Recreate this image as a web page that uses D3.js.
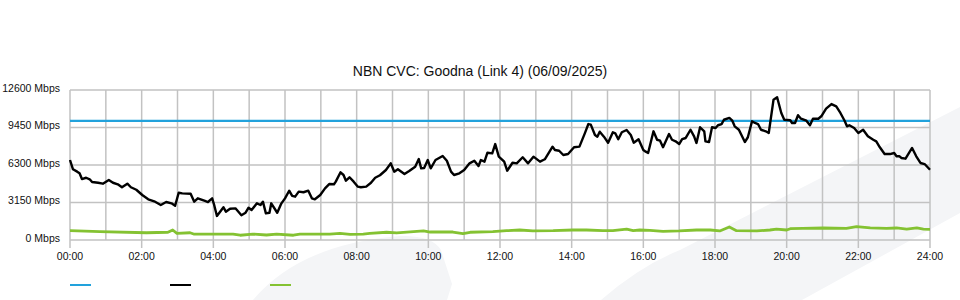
<!DOCTYPE html>
<html>
<head>
<meta charset="utf-8">
<script src="https://cdn.jsdelivr.net/npm/d3@7"></script>
<style>
  html, body { margin: 0; padding: 0; background: #fff; }
  svg { display: block; font-family: "Liberation Sans", Arial, Helvetica, sans-serif; }
</style>
</head>
<body>
<svg id="chart" width="960" height="300"></svg>
<script>
// ---- data (minutes since midnight, Mbps) ----
const title = "NBN CVC: Goodna (Link 4) (06/09/2025)";
const yTicks = [0, 3150, 6300, 9450, 12600];
const xTickLabels = ["00:00","02:00","04:00","06:00","08:00","10:00","12:00","14:00","16:00","18:00","20:00","22:00","24:00"];
const capacityMinutes = [0, 1440];
const capacityMbps = [10000, 10000];

const trafficMinutes = [0,5,12,16,20,27,33,37,47,55,65,72,80,87,96,102,111,121,131,141,152,161,170,176,182,188,202,208,214,226,231,238,241,
  246,252,257,261,268,277,287,294,299,304,313,319,323,328,334,337,347,354,360,367,372,377,383,391,399,405,410,419,427,434,442,445,453,458,462,468,475,
  482,487,496,504,511,519,529,537,543,549,560,568,578,584,588,593,599,604,612,624,631,638,643,652,660,669,677,684,688,694,699,707,712,718,
  723,727,732,741,748,758,767,776,787,795,808,812,819,826,834,844,853,862,868,872,879,883,887,894,901,909,913,918,924,932,939,944,952,960,964,
  968,977,983,988,993,1003,1008,1014,1020,1025,1031,1039,1045,1049,1055,1062,1064,1070,1075,1081,1085,1091,1095,1104,1109,1113,1120,1130,1135,1142,1147,1152,1157,1165,1170,1178,1184,1191,1196,1206,
  1209,1214,1219,1224,1233,1239,1244,1253,1258,1266,1275,1283,1290,1297,1301,1305,1313,1320,1328,1336,1345,1350,1356,1364,1373,1380,1384,1389,1392,1399,1410,1417,1424,1431,1440];
const trafficMbps = [6720,5940,5740,5600,5120,5230,5100,4870,4810,4730,5040,4810,4680,4430,4730,4430,4220,3780,3420,3250,2940,3190,3080,2880,3970,3920,3890,3220,3500,3280,3190,3500,3020,
  2020,2410,2750,2380,2630,2660,2080,2290,2710,2520,3080,2940,3220,2240,2290,3080,2290,3080,3500,4140,3700,3640,4060,4010,4140,3500,3420,3780,4340,4700,4680,4900,5690,5460,4980,5270,4900,
  4480,4430,4480,4810,5230,5440,5880,6440,5740,5940,5540,5800,6160,6800,6020,6050,6720,6020,6720,7060,6660,5740,5460,5600,5880,6440,6660,6220,6720,6580,7330,7280,8060,7000,
  6780,6580,5820,6490,6440,6950,6440,7000,6580,6780,7840,7560,7500,7140,7220,7790,7840,8960,9740,9690,8820,8680,9100,8680,8170,9050,8960,8460,9050,9240,8820,8170,8460,7560,7420,
  7310,9130,8420,8340,7790,8900,8420,8290,8060,8480,8570,9260,8710,8150,9470,9130,8290,8230,9470,9410,9640,9740,10100,10250,10020,9550,9260,8230,8630,9970,9830,9740,9260,9130,8990,11790,11990,10670,10100,10060,
  9830,9830,10480,10190,10020,9640,10190,10190,10390,11030,11420,11230,10670,10020,9550,9640,9410,8990,9260,8710,8420,8290,7790,7220,7220,7310,7030,7030,6890,6830,7730,7030,6470,6380,5900];

const uploadMinutes = [0,50,128,164,172,179,201,207,273,285,306,329,346,374,385,435,452,469,491,502,530,547,564,592,603,641,658,670,708,731,753,775,809,842,865,892,909,932,943,954,
  971,993,1020,1049,1072,1088,1104,1116,1150,1172,1183,1200,1206,1227,1261,1300,1317,1340,1367,1384,1401,1418,1429,1440];
const uploadMbps = [780,700,610,650,840,560,610,500,500,400,500,420,500,400,500,500,560,480,500,560,650,590,670,760,670,670,530,650,700,780,840,760,780,840,840,780,780,920,780,840,
  810,730,760,840,840,760,1090,780,760,840,920,840,950,980,1010,980,1120,1020,980,1010,920,1010,920,900];

// ---- layout ----
const svg = d3.select("#chart");
const x = d3.scaleLinear().domain([0, 1440]).range([70, 930]);
const y = d3.scaleLinear().domain([0, 12600]).range([240, 90]);

// background watermark
const bg = svg.append("g");
bg.append("path").attr("fill", "#f4f5f7")
  .attr("d", "M253,300 Q300,244 400,236 Q432,235 441,250 L452,284 L447,300 Z");
bg.append("path").attr("fill", "#f4f5f7")
  .attr("d", "M601,300 Q640,266 680,250 L960,107 L960,213 L802,300 Z");

// title
svg.append("text").attr("x", 480).attr("y", 76).attr("text-anchor", "middle")
  .attr("font-size", 14).attr("fill", "#111").text(title);

// grid
const grid = svg.append("g").attr("stroke", "#c2c2c2").attr("stroke-width", 1.5).attr("fill", "none");
d3.range(0, 25).forEach(h => {
  const xx = x(h * 60);
  grid.append("line").attr("x1", xx).attr("x2", xx).attr("y1", y(12600))
    .attr("y2", h % 2 === 0 ? 248 : y(0));
});
yTicks.forEach(v => {
  grid.append("line").attr("x1", x(0)).attr("x2", x(1440)).attr("y1", y(v)).attr("y2", y(v));
});

// y labels
svg.append("g").selectAll("text").data(yTicks).join("text")
  .attr("x", 60).attr("y", d => y(d) + 1.8).attr("text-anchor", "end")
  .attr("font-size", 10.5).attr("fill", "#111").text(d => d + " Mbps");

// x labels
svg.append("g").selectAll("text").data(xTickLabels).join("text")
  .attr("x", (d, i) => x(i * 120)).attr("y", 260).attr("text-anchor", "middle")
  .attr("font-size", 10.5).attr("fill", "#111").text(d => d);

// series
const line = d3.line().x(d => x(d[0])).y(d => y(d[1]));
const zip = (a, b) => a.map((v, i) => [v, b[i]]);

svg.append("path").datum(zip(uploadMinutes, uploadMbps))
  .attr("fill", "none").attr("stroke", "#84c232").attr("stroke-width", 2.8)
  .attr("stroke-linejoin", "round").attr("d", line);
svg.append("path").datum(zip(capacityMinutes, capacityMbps))
  .attr("fill", "none").attr("stroke", "#22a2dc").attr("stroke-width", 2.2).attr("d", line);
svg.append("path").datum(zip(trafficMinutes, trafficMbps))
  .attr("fill", "none").attr("stroke", "#000").attr("stroke-width", 2.4)
  .attr("stroke-linejoin", "round").attr("d", line);

// legend (swatches only)
const legendColors = ["#22a2dc", "#000", "#84c232"];
svg.append("g").selectAll("line").data(legendColors).join("line")
  .attr("x1", (d, i) => 70 + i * 100).attr("x2", (d, i) => 91 + i * 100)
  .attr("y1", 285).attr("y2", 285).attr("stroke", d => d).attr("stroke-width", 2);
</script>
</body>
</html>
